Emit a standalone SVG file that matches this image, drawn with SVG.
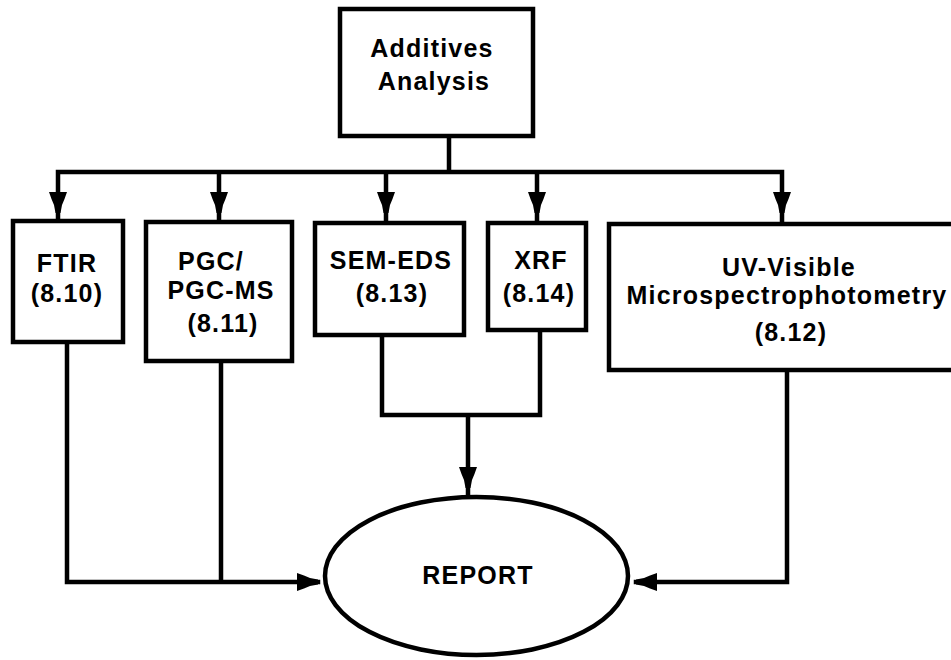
<svg xmlns="http://www.w3.org/2000/svg" width="951" height="660" viewBox="0 0 951 660">
<style>
.box{fill:#fff;stroke:#000;stroke-width:4.5}
.ln{fill:none;stroke:#000;stroke-width:4.5;stroke-linejoin:miter;stroke-linecap:square}
.t{font-family:"Liberation Sans",Arial,sans-serif;font-weight:bold;font-size:25px;letter-spacing:1.2px;text-anchor:middle;fill:#000}
</style>
<defs>
<path id="ah" d="M-9,0 L9,0 L6.5,7 L4,13 L2.5,21 L-2.5,21 L-4,13 L-6.5,7 Z" fill="#000"/>
</defs>
<rect width="951" height="660" fill="#fff"/>
<g id="connectors">
<path class="ln" d="M449,136 V172 M58,172 H782 M58,172 V221 M219,172 V222 M386,172 V223 M537,172 V223 M782,172 V224"/>
<path class="ln" d="M67,342 V582 H318 M221,361 V582"/>
<path class="ln" d="M382,335 V415 H540 V330 M468,415 V495"/>
<path class="ln" d="M787,370 V582 H636"/>
<use href="#ah" transform="translate(58,192)"/>
<use href="#ah" transform="translate(219,192)"/>
<use href="#ah" transform="translate(386,192)"/>
<use href="#ah" transform="translate(537,192)"/>
<use href="#ah" transform="translate(782,192)"/>
<use href="#ah" transform="translate(468,467)"/>
<use href="#ah" transform="translate(297,582) rotate(-90)"/>
<use href="#ah" transform="translate(657,582) rotate(90)"/>
</g>
<g id="n-additives">
<rect class="box" x="340" y="9" width="193" height="127"/>
<text class="t" x="432" y="57">Additives</text>
<text class="t" x="434" y="90">Analysis</text>
</g>
<g id="n-ftir">
<rect class="box" x="13" y="221" width="110" height="121"/>
<text class="t" x="67" y="272">FTIR</text>
<text class="t" x="67" y="302">(8.10)</text>
</g>
<g id="n-pgc">
<rect class="box" x="146" y="222" width="146" height="139"/>
<text class="t" x="211" y="270">PGC/</text>
<text class="t" x="221" y="299">PGC-MS</text>
<text class="t" x="223" y="332">(8.11)</text>
</g>
<g id="n-sem">
<rect class="box" x="315" y="223" width="149" height="112"/>
<text class="t" x="391" y="269">SEM-EDS</text>
<text class="t" x="392" y="302">(8.13)</text>
</g>
<g id="n-xrf">
<rect class="box" x="488" y="223" width="98" height="107"/>
<text class="t" x="541" y="269">XRF</text>
<text class="t" x="539" y="302">(8.14)</text>
</g>
<g id="n-uv">
<rect class="box" x="609" y="224" width="350" height="146"/>
<text class="t" x="789" y="276">UV-Visible</text>
<text class="t" x="787" y="304">Microspectrophotometry</text>
<text class="t" x="791" y="341">(8.12)</text>
</g>
<g id="n-report">
<ellipse class="box" cx="476.5" cy="576" rx="151.5" ry="79"/>
<text class="t" x="478" y="584">REPORT</text>
</g>
</svg>
